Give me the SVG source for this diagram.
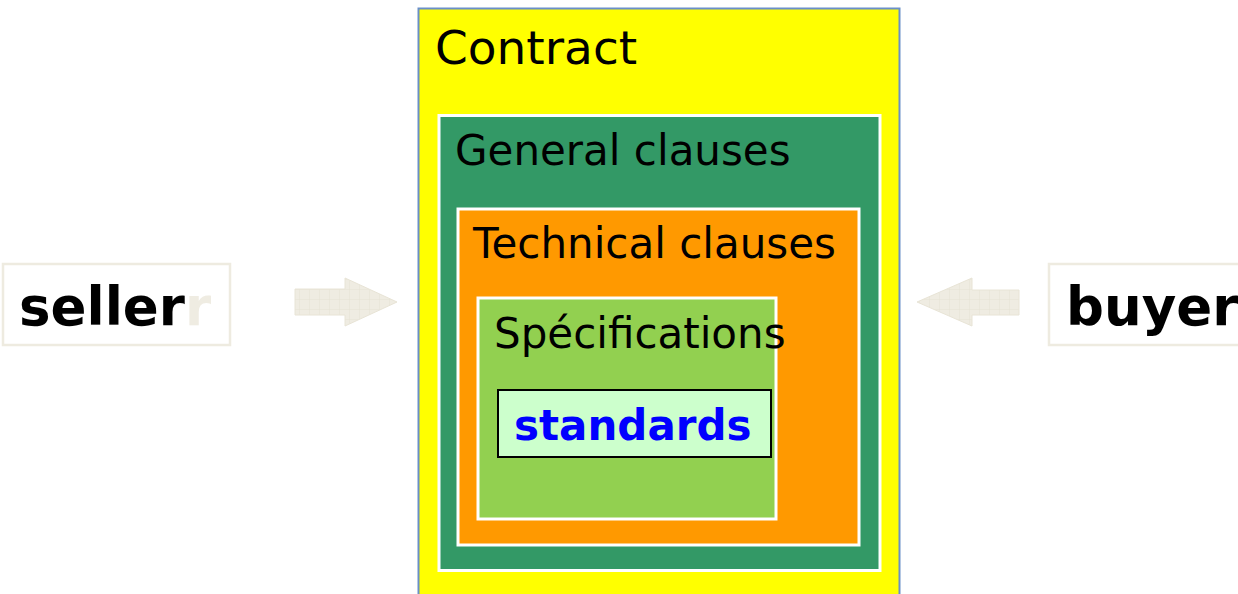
<svg xmlns="http://www.w3.org/2000/svg" width="1238" height="594" viewBox="0 0 1238 594">
<style>
text{font-family:"DejaVu Sans",Verdana,sans-serif;}
.lbl{font-size:42px;fill:#000;}
.party{font-size:53px;font-weight:bold;fill:#000;}
.pbox{fill:#fff;stroke:#eeebe0;stroke-width:2.5;}
.inner{stroke:#fff;stroke-width:3;}
.arrow{fill:url(#grid);stroke:#e8e4d6;stroke-width:1;}
</style>
<defs>
<pattern id="grid" width="10" height="10" patternUnits="userSpaceOnUse">
<rect width="10" height="10" fill="#efece2"/>
<path d="M10 0V10M0 10H10" stroke="#e6e2d4" stroke-width="1" fill="none"/>
</pattern>
</defs>
<g id="seller">
<rect class="pbox" x="3" y="264" width="227" height="81"/>
<text class="party" x="19" y="325">seller<tspan fill="#efece2">r</tspan></text>
</g>
<g id="buyer">
<rect class="pbox" x="1049" y="264" width="200" height="81"/>
<text class="party" x="1066" y="325">buyer</text>
</g>
<g id="contract">
<rect x="418.5" y="8.5" width="481" height="600" fill="#ffff00" stroke="#6a8fc8" stroke-width="2"/>
<text class="lbl" x="435" y="64" style="font-size:47px">Contract</text>
</g>
<g id="general">
<rect class="inner" x="439" y="115.5" width="441" height="455" fill="#339966"/>
<text class="lbl" x="455" y="165">General clauses</text>
</g>
<g id="technical">
<rect class="inner" x="458" y="209" width="401" height="336" fill="#ff9900"/>
<text class="lbl" x="473" y="258">Technical clauses</text>
</g>
<g id="specifications">
<rect class="inner" x="478" y="298" width="298" height="221" fill="#92d050"/>
<text class="lbl" x="494" y="348">Spécifications</text>
</g>
<g id="standards">
<rect x="498" y="390" width="273" height="67" fill="#ccffcc" stroke="#000" stroke-width="2"/>
<text x="514" y="440" style="font-size:42px;font-weight:bold;fill:#0000ff">standards</text>
</g>
<g id="connectors">
<path class="arrow" d="M295 289H345V278L397 302L345 326V315H295Z"/>
<path class="arrow" d="M1019 290H972V278L917 302L972 326V315H1019Z"/>
</g>
</svg>
